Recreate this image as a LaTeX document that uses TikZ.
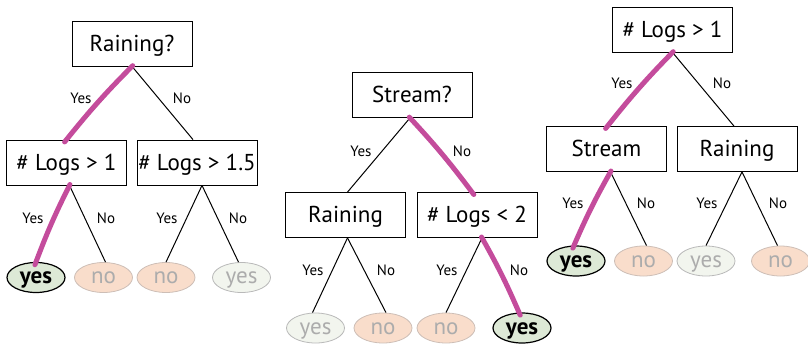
\documentclass[tikz,border=0pt]{standalone}
\usepackage{fontspec}
\setmainfont{PT Sans}
\usepackage{xcolor}
\usepackage{tikz}
\usetikzlibrary{shapes.geometric}

\definecolor{hitgreen}{RGB}{221,233,214}
\definecolor{nopeach}{RGB}{249,221,203}
\definecolor{nodraw}{RGB}{205,190,182}
\definecolor{yesfade}{RGB}{242,245,238}
\definecolor{yesdraw}{RGB}{185,185,185}
\definecolor{fadetext}{RGB}{172,172,172}
\definecolor{pathpink}{RGB}{196,76,156}

\begin{document}
\begin{tikzpicture}[x=1pt,y=-1pt,
    test/.style={draw, line width=0.8pt, minimum width=120pt, minimum height=45pt, inner sep=0pt, text height=19pt, text depth=4pt, font=\fontsize{23}{27}\selectfont},
    leafbase/.style={ellipse, minimum width=58pt, minimum height=30pt, inner sep=0pt, text height=15pt, text depth=3pt, font=\fontsize{23}{26}\selectfont},
    leafhit/.style={leafbase, draw, line width=1.2pt, fill=hitgreen, font=\fontsize{23}{26}\selectfont\bfseries},
    leafno/.style={leafbase, draw=nodraw, line width=0.8pt, fill=nopeach, text=fadetext},
    leafyes/.style={leafbase, draw=yesdraw, line width=0.8pt, fill=yesfade, text=fadetext},
    edge/.style={line width=1pt},
    trail/.style={line width=5pt, pathpink, line cap=round, shorten <=-1pt, shorten >=-3pt},
    lbl/.style={font=\fontsize{15}{18}\selectfont}]

\useasboundingbox (0,0) rectangle (808,346);

% Tree 1: Raining first
\node[test] (r1) at (132,43.5) {Raining?};
\node[test] (a1) at (66.5,162.5) {\# Logs > 1};
\node[test] (b1) at (197,162.5) {\# Logs > 1.5};
\node[leafhit] (l11) at (36,277.5) {yes};
\node[leafno] (l12) at (103.5,277.5) {no};
\node[leafno] (l13) at (166,277.5) {no};
\node[leafyes] (l14) at (241.5,277.5) {yes};

\draw[edge] (r1.south) -- (a1.north);
\draw[edge] (r1.south) -- ([xshift=-4pt]b1.north);
\draw[edge] ([xshift=3pt]a1.south) -- (l11.north);
\draw[edge] ([xshift=3pt]a1.south) -- ([xshift=2pt]l12.north);
\draw[edge] ([xshift=5pt]b1.south) -- (l13.north);
\draw[edge] ([xshift=5pt]b1.south) -- ([xshift=-3pt]l14.north);

\node[lbl] at (81,98) {Yes};
\node[lbl] at (182,98) {No};
\node[lbl] at (33,218) {Yes};
\node[lbl] at (106,218) {No};
\node[lbl] at (167,218) {Yes};
\node[lbl] at (238,218) {No};

% Tree 2: Stream first
\node[test] (r2) at (412,95) {Stream?};
\node[test] (a2) at (345.5,215) {Raining};
\node[test] (b2) at (477,215) {\# Logs < 2};
\node[leafyes] (l21) at (315.5,328) {yes};
\node[leafno] (l22) at (383,328) {no};
\node[leafno] (l23) at (446,328) {no};
\node[leafhit] (l24) at (522,328) {yes};

\draw[edge] ([xshift=-2pt]r2.south) -- ([xshift=2pt]a2.north);
\draw[edge] ([xshift=-2pt]r2.south) -- ([xshift=-5pt]b2.north);
\draw[edge] ([xshift=2pt]a2.south) -- ([xshift=-3pt]l21.north);
\draw[edge] ([xshift=2pt]a2.south) -- ([xshift=3pt]l22.north);
\draw[edge] ([xshift=5pt]b2.south) -- (l23.north);
\draw[edge] ([xshift=5pt]b2.south) -- ([xshift=-3pt]l24.north);

\node[lbl] at (361,151) {Yes};
\node[lbl] at (462,151) {No};
\node[lbl] at (313,270) {Yes};
\node[lbl] at (386,270) {No};
\node[lbl] at (447,270) {Yes};
\node[lbl] at (519,270) {No};

% Tree 3: logs first
\node[test] (r3) at (672.5,29.5) {\# Logs > 1};
\node[test] (a3) at (606.5,149) {Stream};
\node[test] (b3) at (737,149) {Raining};
\node[leafhit] (l31) at (576,261) {yes};
\node[leafno] (l32) at (643.5,261) {no};
\node[leafyes] (l33) at (706,261) {yes};
\node[leafno] (l34) at (780.5,261) {no};

\draw[edge] (r3.south) -- ([xshift=1pt]a3.north);
\draw[edge] (r3.south) -- ([xshift=-3pt]b3.north);
\draw[edge] ([xshift=4pt]a3.south) -- ([xshift=-2pt]l31.north);
\draw[edge] ([xshift=4pt]a3.south) -- ([xshift=3pt]l32.north);
\draw[edge] ([xshift=5pt]b3.south) -- (l33.north);
\draw[edge] ([xshift=5pt]b3.south) -- ([xshift=-3pt]l34.north);

\node[lbl] at (622,83) {Yes};
\node[lbl] at (722,83) {No};
\node[lbl] at (573,203) {Yes};
\node[lbl] at (646,203) {No};
\node[lbl] at (707,203) {Yes};
\node[lbl] at (778,203) {No};

% Decision paths
\draw[trail] (r1.south) to[bend right=3] (a1.north);
\draw[trail] ([xshift=3pt]a1.south) to[bend right=3] (l11.north);
\draw[trail] ([xshift=-2pt]r2.south) to[bend left=3] ([xshift=-5pt]b2.north);
\draw[trail] ([xshift=5pt]b2.south) to[bend left=3] ([xshift=-3pt]l24.north);
\draw[trail] (r3.south) to[bend right=3] ([xshift=1pt]a3.north);
\draw[trail] ([xshift=4pt]a3.south) to[bend right=3] ([xshift=-2pt]l31.north);

\end{tikzpicture}
\end{document}
